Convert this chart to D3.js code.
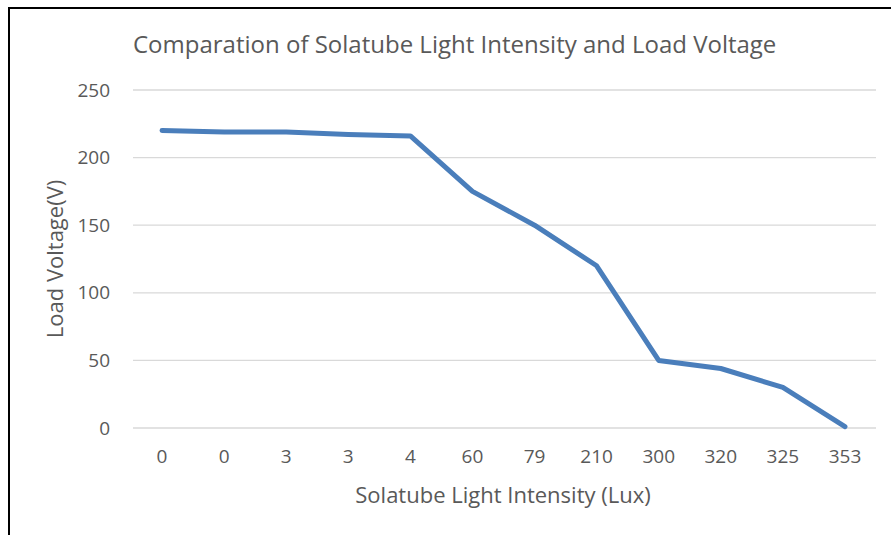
<!DOCTYPE html>
<html>
<head>
<meta charset="utf-8">
<script src="https://cdn.jsdelivr.net/npm/d3@7"></script>
<style>
  body { margin: 0; background: #fff; }
  text { font-family: "Open Sans", "Noto Sans", sans-serif; fill: #595959; }
</style>
</head>
<body>
<div id="main"></div>
<script>
// DATA
const categories = ['0', '0', '3', '3', '4', '60', '79', '210', '300', '320', '325', '353']
const voltage = [220, 219, 219, 217, 216, 175, 150, 120, 50, 44, 30, 1]
const yTicks = [0, 50, 100, 150, 200, 250]

const width = 891
const height = 535
const margin = {top: 90, right: 15, bottom: 107, left: 131}
const plotW = 876 - margin.left
const plotH = 428 - margin.top

let svg = d3.select('#main').append('svg')
  .attr('width', width)
  .attr('height', height)

// frame (only left and top edges are in view)
svg.append('path')
  .attr('d', 'M9,535 V8 H891')
  .attr('fill', 'none')
  .attr('stroke', '#000')
  .attr('stroke-width', 2)

let g = svg.append('g').attr('transform', `translate(${margin.left},${margin.top})`)

let x = d3.scaleBand()
  .domain(d3.range(categories.length))
  .range([0, plotW])

let y = d3.scaleLinear()
  .domain([0, 250])
  .range([plotH, 0])

// gridlines
g.selectAll('line.grid')
  .data(yTicks)
  .enter().append('line')
    .attr('class', 'grid')
    .attr('x1', 2).attr('x2', plotW)
    .attr('y1', d => y(d)).attr('y2', d => y(d))
    .attr('stroke', '#d9d9d9')
    .attr('stroke-width', 1.3)

// y axis labels
let yAxis = g.append('g')
  .call(d3.axisLeft(y).tickValues(yTicks).tickSize(0).tickPadding(21))
yAxis.select('.domain').remove()
yAxis.selectAll('text')
  .style('font-size', '19px')
  .attr('fill', '#595959')

// x axis labels
let xAxis = g.append('g')
  .attr('transform', `translate(0,${plotH})`)
  .call(d3.axisBottom(x).tickFormat(i => categories[i]).tickSize(0).tickPadding(22))
xAxis.select('.domain').remove()
xAxis.selectAll('text')
  .style('font-size', '19px')
  .attr('fill', '#595959')

// line
let line = d3.line()
  .x((d, i) => x(i) + x.bandwidth() / 2)
  .y(d => y(d))

g.append('path')
  .datum(voltage)
  .attr('d', line)
  .attr('fill', 'none')
  .attr('stroke', '#4a7ebb')
  .attr('stroke-width', 5)
  .attr('stroke-linejoin', 'round')
  .attr('stroke-linecap', 'round')

// titles
svg.append('text')
  .attr('x', 133).attr('y', 53)
  .style('font-size', '24px')
  .text('Comparation of Solatube Light Intensity and Load Voltage')

svg.append('text')
  .attr('x', 503).attr('y', 503)
  .attr('text-anchor', 'middle')
  .style('font-size', '22px')
  .text('Solatube Light Intensity (Lux)')

svg.append('text')
  .attr('transform', 'translate(63,259) rotate(-90)')
  .attr('text-anchor', 'middle')
  .style('font-size', '22px')
  .text('Load Voltage(V)')
</script>
</body>
</html>
